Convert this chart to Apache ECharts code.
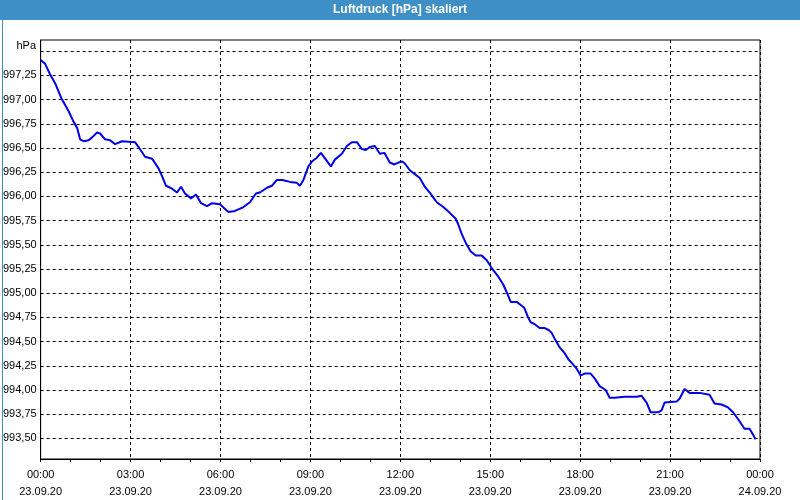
<!DOCTYPE html>
<html><head><meta charset="utf-8">
<script src="https://cdn.jsdelivr.net/npm/echarts@6/dist/echarts.min.js"></script>
<style>html,body{margin:0;padding:0;background:#fff}#c{width:800px;height:500px}</style>
</head><body><div id="c"></div>
<script>
var times = ["00:00","00:09","00:19","00:29","00:41","00:56","01:06","01:13","01:19","01:26",
"01:36","01:43","01:53","01:59","02:09","02:19","02:29","02:43","03:09","03:16",
"03:29","03:43","03:56","04:03","04:11","04:23","04:33","04:41","04:49","05:01",
"05:11","05:21","05:33","05:43","05:59","06:07","06:16","06:29","06:46","06:59",
"07:11","07:19","07:33","07:43","07:53","08:04","08:19","08:33","08:39","08:46",
"08:56","09:03","09:13","09:21","09:31","09:41","09:49","10:03","10:13","10:23",
"10:33","10:43","10:51","10:59","11:09","11:19","11:28","11:39","11:48","11:56",
"12:04","12:09","12:19","12:29","12:39","12:49","12:59","13:13","13:26","13:39",
"13:51","13:56","14:03","14:13","14:21","14:31","14:43","14:53","15:03","15:15",
"15:26","15:33","15:41","15:53","16:03","16:08","16:15","16:21","16:29","16:39",
"16:49","16:57","17:03","17:09","17:19","17:29","17:36","17:43","17:53","18:01",
"18:09","18:21","18:29","18:39","18:51","18:59","19:09","19:29","19:53","20:03",
"20:06","20:13","20:21","20:36","20:43","20:49","21:13","21:19","21:29","21:39",
"21:59","22:19","22:29","22:43","22:56","23:06","23:16","23:29","23:39","23:46",
"23:51"];
var pressure = [997.41,997.37,997.26,997.17,997.02,996.88,996.77,996.71,996.59,996.57,
996.58,996.61,996.66,996.65,996.59,996.58,996.54,996.57,996.56,996.51,
996.41,996.39,996.29,996.21,996.11,996.08,996.04,996.10,996.03,995.98,
996.02,995.93,995.90,995.93,995.92,995.88,995.84,995.85,995.89,995.94,
996.03,996.04,996.09,996.11,996.17,996.17,996.15,996.14,996.11,996.17,
996.31,996.36,996.40,996.45,996.38,996.31,996.38,996.44,996.52,996.56,
996.56,996.49,996.48,996.51,996.52,996.44,996.45,996.35,996.33,996.35,
996.36,996.34,996.27,996.23,996.19,996.10,996.04,995.94,995.89,995.83,
995.77,995.71,995.61,995.50,995.43,995.39,995.39,995.34,995.26,995.18,
995.09,995.01,994.91,994.91,994.87,994.85,994.76,994.70,994.68,994.64,
994.64,994.62,994.59,994.53,994.44,994.38,994.32,994.28,994.22,994.15,
994.17,994.17,994.12,994.04,994.00,993.92,993.92,993.93,993.93,993.94,
993.92,993.87,993.77,993.77,993.79,993.87,993.88,993.91,994.01,993.97,
993.97,993.95,993.86,993.85,993.82,993.77,993.70,993.60,993.60,993.54,993.49];
var tickTimes = ["00:00","03:00","06:00","09:00","12:00","15:00","18:00","21:00","00:00"];
var tickDates = ["23.09.20","23.09.20","23.09.20","23.09.20","23.09.20","23.09.20","23.09.20","23.09.20","24.09.20"];
var yGridValues = [993.50,993.75,994.00,994.25,994.50,994.75,995.00,995.25,995.50,995.75,996.00,996.25,996.50,996.75,997.00,997.25,997.50];
var yLabelValues = [993.50,993.75,994.00,994.25,994.50,994.75,995.00,995.25,995.50,995.75,996.00,996.25,996.50,996.75,997.00,997.25];
var yMin = 993.287, yMax = 997.616;

function toMin(s){var p=s.split(':');return (+p[0])*60+(+p[1]);}
var data = times.map(function(t,i){return [toMin(t), pressure[i]];});

var font = "'Liberation Sans', Arial, sans-serif";
var chart = echarts.init(document.getElementById('c'), null, {renderer:'canvas'});
chart.setOption({
  animation:false,
  backgroundColor:'#ffffff',
  grid:{left:40,right:40,top:40,bottom:40,show:true,borderColor:'#000',borderWidth:1,backgroundColor:'transparent'},
  xAxis:{type:'value',min:0,max:1440,interval:180,
    axisLine:{lineStyle:{color:'#000',width:1}},
    axisTick:{show:true,length:3,inside:false,lineStyle:{color:'#000'}},
    minorTick:{show:true,splitNumber:3,length:3,lineStyle:{color:'#000'}},
    splitLine:{show:true,lineStyle:{color:'#000',type:[3,3],width:1}},
    axisLabel:{margin:7,color:'#000',fontFamily:font,fontSize:11,lineHeight:17,
      formatter:function(v){var i=Math.round(v/180);return tickTimes[i]+'\n'+tickDates[i];}}
  },
  yAxis:{type:'value',min:yMin,max:yMax,
    axisLine:{show:true,lineStyle:{color:'#000',width:1}},
    axisTick:{show:false,customValues:yGridValues},
    splitLine:{show:true,lineStyle:{color:'#000',type:[3,3],width:1}},
    axisLabel:{margin:4,color:'#000',fontFamily:font,fontSize:11,customValues:yLabelValues,
      formatter:function(v){ return v.toFixed(2).replace('.',','); }}
  },
  series:[{type:'line',data:data,showSymbol:false,symbol:'none',
    lineStyle:{color:'#0000e8',width:2},itemStyle:{color:'#0000e8'}}],
  graphic:[
    {type:'rect',left:0,top:0,z:-1,shape:{width:800,height:20},style:{fill:'#3d8fc6'}},
    {type:'rect',left:0,top:0,z:100,shape:{x:0.5,y:0.5,width:799,height:499},style:{fill:null,stroke:'#3d8fc6',lineWidth:1}},
    {type:'text',x:400,y:10,z:101,style:{text:'Luftdruck [hPa] skaliert',fill:'#fff',font:'bold 12px '+font,textAlign:'center',textVerticalAlign:'middle'}},
    {type:'text',x:36,y:46,z:101,style:{text:'hPa',fill:'#000',font:'11px '+font,textAlign:'right',textVerticalAlign:'middle'}}
  ]
});
</script></body></html>
